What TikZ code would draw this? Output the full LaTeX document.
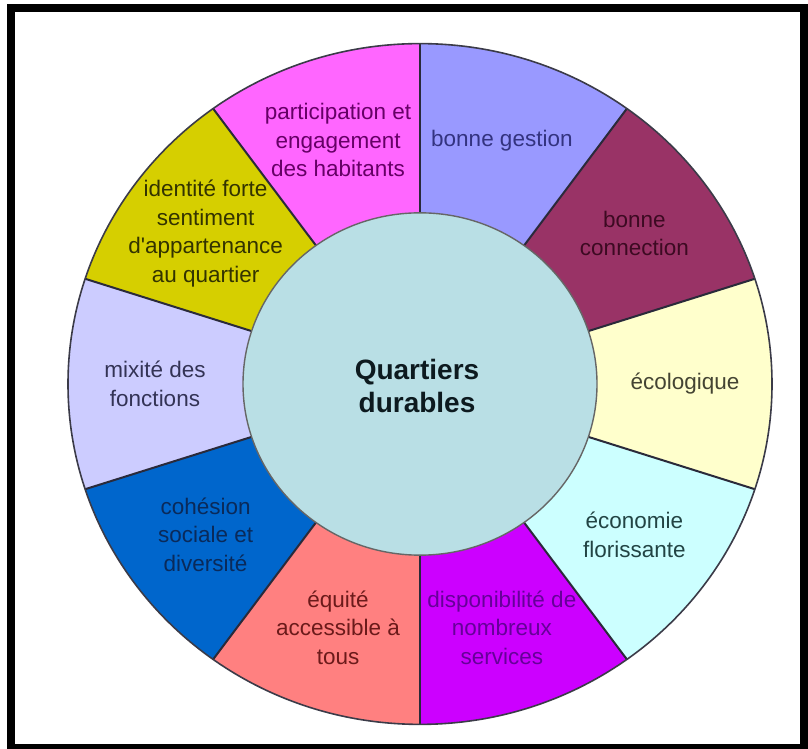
\documentclass[tikz,border=0pt]{standalone}
\usepackage{fontspec}
\setmainfont{Liberation Sans}
\definecolor{cgestion}{HTML}{9999FF}
\definecolor{cconnection}{HTML}{993366}
\definecolor{cecologique}{HTML}{FFFFCC}
\definecolor{ceconomie}{HTML}{CCFFFF}
\definecolor{cdispo}{HTML}{CC00FF}
\definecolor{cequite}{HTML}{FF8080}
\definecolor{ccohesion}{HTML}{0066CC}
\definecolor{cmixite}{HTML}{CCCCFF}
\definecolor{cidentite}{HTML}{D6CF00}
\definecolor{cparticip}{HTML}{FF66FF}
\definecolor{ccenter}{HTML}{B9DFE5}
\definecolor{edge}{HTML}{2A2A3A}
\definecolor{tgestion}{HTML}{333380}
\definecolor{tconnection}{HTML}{3D0A22}
\definecolor{tecologique}{HTML}{444433}
\definecolor{teconomie}{HTML}{224444}
\definecolor{tdispo}{HTML}{660099}
\definecolor{tequite}{HTML}{6B1A1A}
\definecolor{tcohesion}{HTML}{0A2A5A}
\definecolor{tmixite}{HTML}{333355}
\definecolor{tidentite}{HTML}{333300}
\definecolor{tparticip}{HTML}{660066}
\definecolor{tcenter}{HTML}{0D1A1F}
\begin{document}
\begin{tikzpicture}[x=1pt,y=1pt,
  lbl/.style={align=center, font=\fontsize{22.5}{28.5}\selectfont, inner sep=0pt},
  ctr/.style={align=center, font=\fontsize{28}{33}\selectfont\bfseries, inner sep=0pt, text=tcenter}]
\useasboundingbox (0,0) rectangle (808,749);
\fill[white] (0,0) rectangle (808,749);
\begin{scope}[shift={(420,365)}, yscale=0.967]
  \foreach \a/\c in {54/cgestion, 18/cconnection, -18/cecologique, -54/ceconomie,
                     -90/cdispo, -126/cequite, -162/ccohesion, 162/cmixite,
                     126/cidentite, 90/cparticip}{
    \fill[\c] (\a:177) -- (\a:352) arc[start angle=\a, end angle=\a+36, radius=352]
       -- ({\a+36}:177) arc[start angle=\a+36, end angle=\a, radius=177] -- cycle;
  }
  \foreach \a in {90,54,18,-18,-54,-90,-126,-162,162,126}{
    \draw[edge, line width=2] (\a:177) -- (\a:352);
  }
  \draw[edge!80!gray, line width=1.6] (0,0) circle[radius=352];
  \filldraw[fill=ccenter, draw=gray!80!black, line width=1.4] (0,0) circle[radius=177];
  \node[ctr] (center) at (-3,-2) {Quartiers\\durables};
  \node[lbl, text=tgestion] (gestion) at (72:265) {bonne gestion};
  \node[lbl, text=tconnection] (connection) at (36:265) {bonne\\connection};
  \node[lbl, text=tecologique] (ecologique) at (0:265) {écologique};
  \node[lbl, text=teconomie] (economie) at (-36:265) {économie\\florissante};
  \node[lbl, text=tdispo] (dispo) at (-72:265) {disponibilité de\\nombreux\\services};
  \node[lbl, text=tequite] (equite) at (-108:265) {équité\\accessible à\\tous};
  \node[lbl, text=tcohesion] (cohesion) at (-144:265) {cohésion\\sociale et\\diversité};
  \node[lbl, text=tmixite] (mixite) at (180:265) {mixité des\\fonctions};
  \node[lbl, text=tidentite] (identite) at (144:265) {identité forte\\sentiment\\d\textquotesingle appartenance\\au quartier};
  \node[lbl, text=tparticip] (particip) at (108:265) {participation et\\engagement\\des habitants};
\end{scope}
\draw[line width=8] (11,1) rectangle (804,741);
\end{tikzpicture}
\end{document}
